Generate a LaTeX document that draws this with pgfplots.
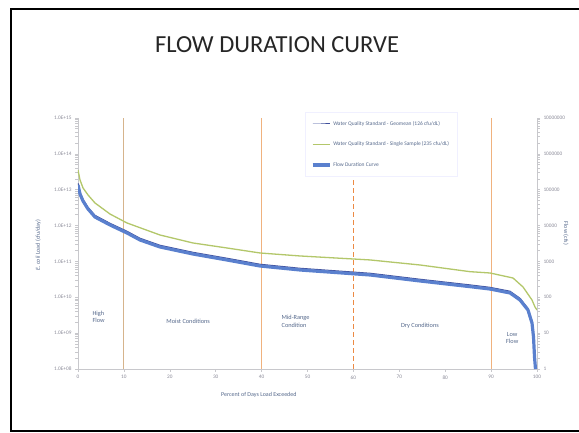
\documentclass[border=0pt]{standalone}
\usepackage{fontspec}
\setmainfont{Carlito}
\usepackage{pgfplots}
\usepackage{pgfplotstable}
\pgfplotsset{compat=1.18}

\definecolor{flowblue}{HTML}{5A80CE}
\definecolor{geoblue}{HTML}{40509C}
\definecolor{ssgreen}{HTML}{B3C76A}
\definecolor{labgray}{HTML}{8C8C99}
\definecolor{txtblue}{HTML}{56698C}
\definecolor{axgray}{HTML}{C8C8CC}
\definecolor{vtan}{HTML}{D6B48C}
\definecolor{vorange}{HTML}{F0B27E}
\definecolor{vdash}{HTML}{EC8A44}

% flow duration curve (cfs), right axis
\pgfplotstableread{
pct   flow
0     135500
0.44  76000
1.09  48400
2.18  29000
3.70  17300
6.97  10400
10.68 6210
13.51 3960
17.86 2530
25.05 1610
32.46 1096
39.65 746
48.37 577
63.62 419
74.51 285
85.40 198
89.76 170
94.12 132
96.30 84
98.04 44
98.91 19.2
99.24 7.8
99.46 2.16
99.67 1
}\flowdata

% geomean standard load (cfu/day)
\pgfplotstableread{
pct   load
0     1.52e13
0.44  8.51e12
1.09  5.42e12
2.18  3.25e12
3.70  1.94e12
6.97  1.16e12
10.68 6.96e11
13.51 4.44e11
17.86 2.83e11
25.05 1.80e11
32.46 1.23e11
39.65 8.36e10
48.37 6.46e10
63.62 4.69e10
74.51 3.19e10
85.40 2.22e10
89.76 1.90e10
94.12 1.48e10
96.30 9.41e9
98.04 4.93e9
98.91 2.15e9
99.24 8.7e8
99.46 2.4e8
99.67 1.12e8
}\geodata

% single sample standard load (cfu/day)
\pgfplotstableread{
pct   load
0     3.55e13
0.44  1.87e13
1.09  1.12e13
2.18  7.13e12
3.70  4.27e12
6.97  2.10e12
10.68 1.18e12
17.86 5.46e11
25.05 3.27e11
32.46 2.37e11
39.65 1.72e11
48.37 1.42e11
63.62 1.10e11
74.51 7.96e10
85.40 5.18e10
89.76 4.76e10
94.77 3.45e10
96.95 1.94e10
98.91 8.41e9
99.56 5.37e9
100   4.43e9
}\ssdata

\begin{document}
\begin{tikzpicture}
\useasboundingbox (0,0) rectangle (579pt,432pt);
\fill[white] (0,0) rectangle (579pt,432pt);
\draw[black, line width=1.8pt] (11pt,1pt) rectangle (620pt,423pt);
\node[font=\fontsize{24.5}{28}\selectfont, text=black!85] at (277pt,387pt) {FLOW DURATION CURVE};

\begin{axis}[
    scale only axis, width=459pt, height=251pt,
    at={(78pt,63pt)}, anchor=south west,
    xmin=0, xmax=100, ymode=log,
    ymin=1e8, ymax=1e15,
    axis line style={axgray, line width=0.8pt},
    tick style={axgray, line width=0.6pt},
    major tick length=3pt, tick align=outside,
    ticklabel style={font=\fontsize{5.3}{6}\selectfont, text=labgray},
    /pgf/number format/assume math mode=true,
    label style={font=\fontsize{6}{7}\selectfont, text=txtblue},
    axis y line*=left, axis x line*=bottom,
    xtick={0,10,...,100},
    ytick={1e8,1e9,1e10,1e11,1e12,1e13,1e14,1e15},
    yticklabels={1.0E+08,1.0E+09,1.0E+10,1.0E+11,1.0E+12,1.0E+13,1.0E+14,1.0E+15},
    minor ytick={},
    xlabel={Percent of Days Load Exceeded},
    ylabel={\emph{E. coli} Load (cfu/day)},
    xlabel style={at={(axis description cs:0.394,-0.104)}, anchor=center},
    ylabel style={at={(axis description cs:-0.087,0.494)}, anchor=center},
]
\draw[vtan, line width=1pt] (axis cs:10,1e8) -- (axis cs:10,1e15);
\draw[vorange, line width=1pt] (axis cs:40,1e8) -- (axis cs:40,1e15);
\draw[vdash, line width=1pt, dash pattern=on 5pt off 3pt] (axis cs:60,1e8) -- (axis cs:60,1e15);
\draw[vorange, line width=1pt] (axis cs:90,1e8) -- (axis cs:90,1e15);
\draw[axgray, line width=0.8pt] (axis cs:100,1e8) -- (axis cs:100,1e15);

\addplot[ssgreen, line width=1.3pt, line join=round] table[x=pct, y=load] {\ssdata};
\addplot[geoblue, line width=1pt, line join=round] table[x=pct, y=load] {\geodata};

\node[anchor=west, align=left, font=\fontsize{6.3}{7.5}\selectfont, text=txtblue] at (rel axis cs:0.024,0.207) {High\\Flow};
\node[anchor=center, font=\fontsize{6.3}{7.5}\selectfont, text=txtblue] at (rel axis cs:0.240,0.191) {Moist Conditions};
\node[anchor=west, align=left, font=\fontsize{6.3}{7.5}\selectfont, text=txtblue] at (rel axis cs:0.436,0.189) {Mid-Range\\Condition};
\node[anchor=center, font=\fontsize{6.3}{7.5}\selectfont, text=txtblue] at (rel axis cs:0.745,0.171) {Dry Conditions};
\node[anchor=center, align=center, font=\fontsize{6.3}{7.5}\selectfont, text=txtblue] at (rel axis cs:0.946,0.124) {Low\\Flow};
\end{axis}

\begin{axis}[
    scale only axis, width=459pt, height=251pt,
    at={(78pt,63pt)}, anchor=south west,
    xmin=0, xmax=100, ymode=log,
    ymin=1, ymax=1e7,
    axis line style={axgray, line width=0.8pt},
    tick style={axgray, line width=0.6pt},
    major tick length=3pt, tick align=outside,
    ticklabel style={font=\fontsize{5.3}{6}\selectfont, text=labgray},
    /pgf/number format/assume math mode=true,
    label style={font=\fontsize{6}{7}\selectfont, text=txtblue},
    axis y line*=right, axis x line=none,
    ytick={1,10,100,1000,10000,100000,1000000,10000000},
    yticklabels={1,10,100,1000,10000,100000,1000000,10000000},
    minor ytick={},
    ylabel={Flow (cfs)},
    ylabel style={at={(axis description cs:1.063,0.54)}, anchor=center, rotate=180},
    legend style={at={(0.494,1.024)}, anchor=north west,
      fill=white, draw=blue!6, line width=0.5pt,
      font=\fontsize{5.5}{6.5}\selectfont, text=txtblue,
      row sep=11pt, inner xsep=6pt, inner ysep=7pt},
    legend cell align=left,
]
\addlegendimage{geoblue, line width=1pt}
\addlegendentry{Water Quality Standard - Geomean (126 cfu/dL)}
\addlegendimage{ssgreen, line width=1.3pt}
\addlegendentry{Water Quality Standard - Single Sample (235 cfu/dL)}
\addplot[flowblue, line width=3.2pt, line join=round] table[x=pct, y=flow] {\flowdata};
\addlegendentry{Flow Duration Curve}
\end{axis}
\end{tikzpicture}
\end{document}
